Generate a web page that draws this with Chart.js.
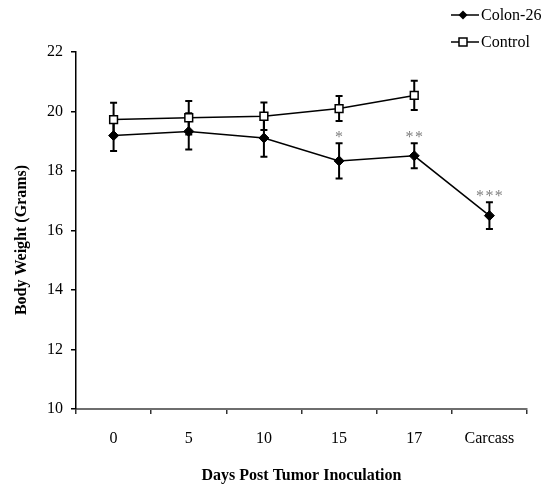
<!DOCTYPE html>
<html>
<head>
<meta charset="utf-8">
<script src="https://cdn.jsdelivr.net/npm/chart.js@4"></script>
<style>
html,body{margin:0;padding:0;background:#fff;}
#wrap{width:549px;height:487px;position:relative;}
</style>
</head>
<body>
<div id="wrap"><canvas id="c" width="549" height="487"></canvas></div>
<script>
const categories = ['0', '5', '10', '15', '17', 'Carcass'];
const colonValues = [19.19, 19.33, 19.11, 18.34, 18.51, 16.50];
const colonErrors = [0.52, 0.61, 0.63, 0.59, 0.42, 0.45];
const controlValues = [19.73, 19.79, 19.84, 20.10, 20.54, null];
const controlErrors = [0.56, 0.56, 0.46, 0.42, 0.49, null];
const significance = ['', '', '', '*', '**', '***'];
const yTicks = [10, 12, 14, 16, 18, 20, 22];
const seriesNames = ['Colon-26', 'Control'];

const SERIF = "'Liberation Serif', 'Times New Roman', serif";

const errorBarPlugin = {
  id: 'errorBars',
  beforeDatasetsDraw(chart) {
    const ctx = chart.ctx;
    const ys = chart.scales.y;
    chart.data.datasets.forEach((ds, di) => {
      const meta = chart.getDatasetMeta(di);
      const errs = ds.errors;
      meta.data.forEach((pt, i) => {
        const v = ds.data[i];
        if (v == null || errs[i] == null) return;
        const x = pt.x;
        const yTop = ys.getPixelForValue(v + errs[i]);
        const yBot = ys.getPixelForValue(v - errs[i]);
        ctx.save();
        ctx.strokeStyle = '#000';
        ctx.lineWidth = 2;
        ctx.beginPath();
        ctx.moveTo(x, yTop); ctx.lineTo(x, yBot);
        ctx.moveTo(x - 3.5, yTop); ctx.lineTo(x + 3.5, yTop);
        ctx.moveTo(x - 3.5, yBot); ctx.lineTo(x + 3.5, yBot);
        ctx.stroke();
        ctx.restore();
      });
    });
  },
  afterDraw(chart) {
    const ctx = chart.ctx;
    const xs = chart.scales.x;
    const ys = chart.scales.y;
    // significance stars
    ctx.save();
    ctx.fillStyle = '#808080';
    ctx.font = '16px ' + SERIF;
    ctx.textAlign = 'center';
    ctx.textBaseline = 'alphabetic';
    significance.forEach((s, i) => {
      if (!s) return;
      const x = xs.getPixelForValue(i);
      const yTop = ys.getPixelForValue(colonValues[i] + colonErrors[i]);
      ctx.fillText(s.split('').join('\u200A'), x, yTop - 1);
    });
    ctx.restore();

    // y axis title
    ctx.save();
    ctx.fillStyle = '#000';
    ctx.font = 'bold 16px ' + SERIF;
    ctx.textAlign = 'center';
    ctx.textBaseline = 'middle';
    ctx.translate(22, 240);
    ctx.rotate(-Math.PI / 2);
    ctx.fillText('Body Weight (Grams)', 0, 0);
    ctx.restore();

    // legend
    const items = [
      {name: seriesNames[0], y: 15, style: 'diamond'},
      {name: seriesNames[1], y: 42, style: 'square'}
    ];
    items.forEach(it => {
      ctx.save();
      ctx.strokeStyle = '#000';
      ctx.lineWidth = 1.5;
      ctx.beginPath();
      ctx.moveTo(451, it.y); ctx.lineTo(479, it.y);
      ctx.stroke();
      if (it.style === 'diamond') {
        ctx.fillStyle = '#000';
        ctx.beginPath();
        ctx.moveTo(463, it.y - 4.5); ctx.lineTo(467.5, it.y);
        ctx.lineTo(463, it.y + 4.5); ctx.lineTo(458.5, it.y);
        ctx.closePath(); ctx.fill();
      } else {
        ctx.fillStyle = '#fff';
        ctx.fillRect(459, it.y - 4, 8, 8);
        ctx.strokeRect(459, it.y - 4, 8, 8);
      }
      ctx.fillStyle = '#000';
      ctx.font = '16px ' + SERIF;
      ctx.textAlign = 'left';
      ctx.textBaseline = 'middle';
      ctx.fillText(it.name, 481, it.y + 1);
      ctx.restore();
    });
  }
};

new Chart(document.getElementById('c'), {
  type: 'line',
  data: {
    labels: categories,
    datasets: [
      {
        label: seriesNames[0],
        data: colonValues,
        errors: colonErrors,
        borderColor: '#000',
        borderWidth: 1.5,
        backgroundColor: '#000',
        pointStyle: 'rectRot',
        pointRadius: 5,
        pointBorderWidth: 1,
        pointBackgroundColor: '#000',
        pointBorderColor: '#000',
        tension: 0,
        fill: false
      },
      {
        label: seriesNames[1],
        data: controlValues,
        errors: controlErrors,
        borderColor: '#000',
        borderWidth: 1.5,
        backgroundColor: '#fff',
        pointStyle: 'rect',
        pointRadius: 5.5,
        pointBorderWidth: 1.5,
        pointBackgroundColor: '#fff',
        pointBorderColor: '#000',
        tension: 0,
        fill: false,
        spanGaps: false
      }
    ]
  },
  options: {
    responsive: false,
    animation: false,
    events: [],
    layout: {padding: {left: 0, right: 22, top: 52, bottom: 0}},
    plugins: {
      legend: {display: false},
      tooltip: {enabled: false}
    },
    scales: {
      x: {
        type: 'category',
        offset: true,
        grid: {display: true, drawOnChartArea: false, drawTicks: true, tickLength: 5, color: '#333', lineWidth: 1.5, offset: true},
        border: {display: true, color: '#6e6e6e', width: 2},
        ticks: {color: '#000', font: {family: SERIF, size: 16}, padding: 15, maxRotation: 0, autoSkip: false},
        title: {display: true, text: 'Days Post Tumor Inoculation', color: '#000', font: {family: SERIF, size: 16, weight: 'bold'}, padding: {top: 0, bottom: 2}},
        afterFit(s) { s.height = 78; }
      },
      y: {
        min: 10,
        max: 22,
        afterBuildTicks(s) { s.ticks = yTicks.map(v => ({value: v})); },
        grid: {display: true, drawOnChartArea: false, drawTicks: true, tickLength: 5, color: '#000', lineWidth: 1.5},
        border: {display: true, color: '#000', width: 1.5},
        ticks: {color: '#000', font: {family: SERIF, size: 16}, padding: 8},
        afterFit(s) { s.width = 76; }
      }
    }
  },
  plugins: [errorBarPlugin]
});
</script>
</body>
</html>
